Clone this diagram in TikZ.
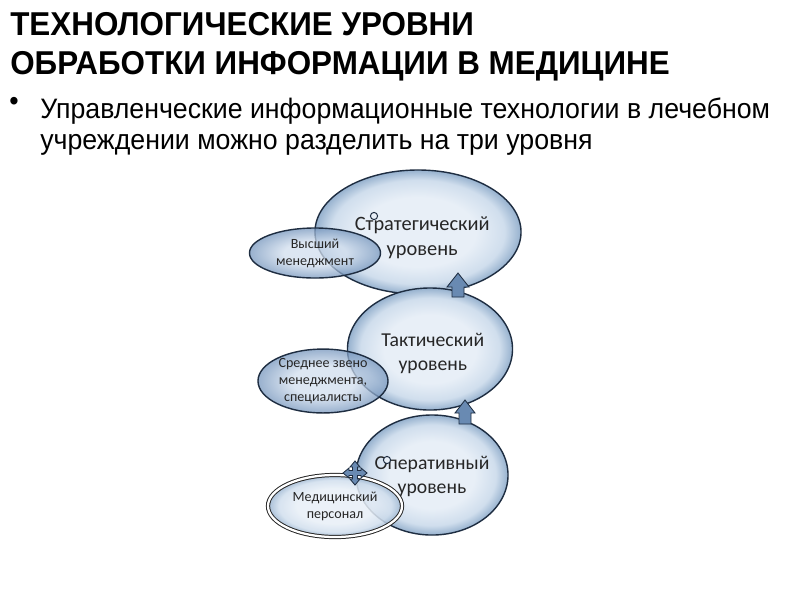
\documentclass[tikz,border=0pt]{standalone}
\usepackage{fontspec}
\setmainfont[FakeStretch=0.95]{Liberation Sans}
\newfontfamily\bubblefont{Carlito}
\usetikzlibrary{shapes.geometric,positioning}
\definecolor{bubblein}{RGB}{232,239,247}
\definecolor{bubblemid}{RGB}{208,222,237}
\definecolor{bubbleout}{RGB}{150,177,206}
\definecolor{staffin}{RGB}{208,221,237}
\definecolor{staffout}{RGB}{118,150,189}
\definecolor{rim}{RGB}{30,45,65}
\definecolor{arrowfill}{RGB}{105,138,178}
\pgfdeclareradialshading{bubble}{\pgfpoint{0bp}{0bp}}{%
  color(0bp)=(bubblein); color(14bp)=(bubblein); color(21bp)=(bubblemid);
  color(25bp)=(bubbleout); color(50bp)=(bubbleout)}
\pgfdeclareradialshading{staffbubble}{\pgfpoint{0bp}{0bp}}{%
  color(0bp)=(staffin); color(12bp)=(staffin); color(25bp)=(staffout);
  color(50bp)=(staffout)}

\begin{document}
\begin{tikzpicture}[x=0.025cm, y=-0.025cm,
  level/.style={ellipse, draw=rim, line width=1pt, shading=bubble,
    inner sep=0pt},
  leveltext/.style={align=center, text=black!85,
    font=\bubblefont\fontsize{14}{17}\selectfont},
  staff/.style={level, shading=staffbubble, fill opacity=0.75, text opacity=1,
    align=center, text=black!85, font=\bubblefont\fontsize{10}{12}\selectfont},
  headline/.style={anchor=base west, inner sep=0pt,
    font=\bfseries\fontsize{23.5}{28}\selectfont},
  bodyline/.style={anchor=base west, inner sep=0pt,
    font=\fontsize{20}{24}\selectfont},
  blockarrow/.style={draw=rim, fill=arrowfill, line width=0.6pt},
  dot/.style={circle, draw=rim, fill=bubblein, line width=0.7pt,
    inner sep=0pt, minimum size=0.18cm}]

  \useasboundingbox (0,0) rectangle (800,600);

  % Title and text
  \node[headline] (title1) at (10,35) {ТЕХНОЛОГИЧЕСКИЕ УРОВНИ};
  \node[headline] (title2) at (10,74) {ОБРАБОТКИ ИНФОРМАЦИИ В МЕДИЦИНЕ};
  \node[bodyline, anchor=center] (bullet) at (14,104) {•};
  \node[bodyline] (text1) at (40,118) {Управленческие информационные технологии в лечебном};
  \node[bodyline] (text2) at (40,149) {учреждении можно разделить на три уровня};

  % Define levels
  \node[level, minimum width=5.15cm, minimum height=3.1cm,
    label={[leveltext, font=\bubblefont\fontsize{14.5}{17.5}\selectfont, xshift=3pt, yshift=-4pt]center:Стратегический\\уровень}]
    (strat) at (418,232) {};
  \node[level, minimum width=4.125cm, minimum height=3.05cm,
    label={[leveltext, xshift=2pt, yshift=-3pt]center:Тактический\\уровень}]
    (tact) at (430,349) {};
  \node[level, minimum width=3.8cm, minimum height=3.0cm,
    label={[leveltext, yshift=-1pt]center:Оперативный\\уровень}]
    (oper) at (432,475) {};

  % Staff of each level
  \node[staff, minimum width=3.275cm, minimum height=1.25cm] (high) at (315,253) {Высший\\менеджмент};
  \node[staff, minimum width=3.25cm, minimum height=1.35cm] (mid) at (323,381) {Среднее звено\\менеджмента,\\специалисты};
  \node[staff, shading=bubble, draw=black!85, double=white, double distance=1.6pt,
    line width=0.7pt, fill opacity=0.85, minimum width=3.35cm,
    minimum height=1.55cm] (med) at (335,506) {Медицинский\\персонал};

  % Arrows between levels
  \draw[blockarrow, shift={(458,297)}]
    (-6,0) -- (-6,-10) -- (-11,-10) -- (0,-24) -- (11,-10) -- (6,-10) -- (6,0) -- cycle;
  \draw[blockarrow, shift={(465,424)}]
    (-6,0) -- (-6,-11) -- (-10,-11) -- (0,-24) -- (10,-11) -- (6,-11) -- (6,0) -- cycle;
  \draw[blockarrow, shift={(355,473)}]
    (0,-12) -- (5,-6) -- (2.5,-6) -- (2.5,-2.5) -- (6,-2.5) -- (6,-5) -- (12,0)
    -- (6,5) -- (6,2.5) -- (2.5,2.5) -- (2.5,6) -- (5,6) -- (0,12) -- (-5,6)
    -- (-2.5,6) -- (-2.5,2.5) -- (-6,2.5) -- (-6,5) -- (-12,0) -- (-6,-5)
    -- (-6,-2.5) -- (-2.5,-2.5) -- (-2.5,-6) -- (-5,-6) -- cycle;

  % Small markers
  \node[dot] (dot1) at (374,216) {};
  \node[dot] (dot2) at (387,460) {};
\end{tikzpicture}
\end{document}
